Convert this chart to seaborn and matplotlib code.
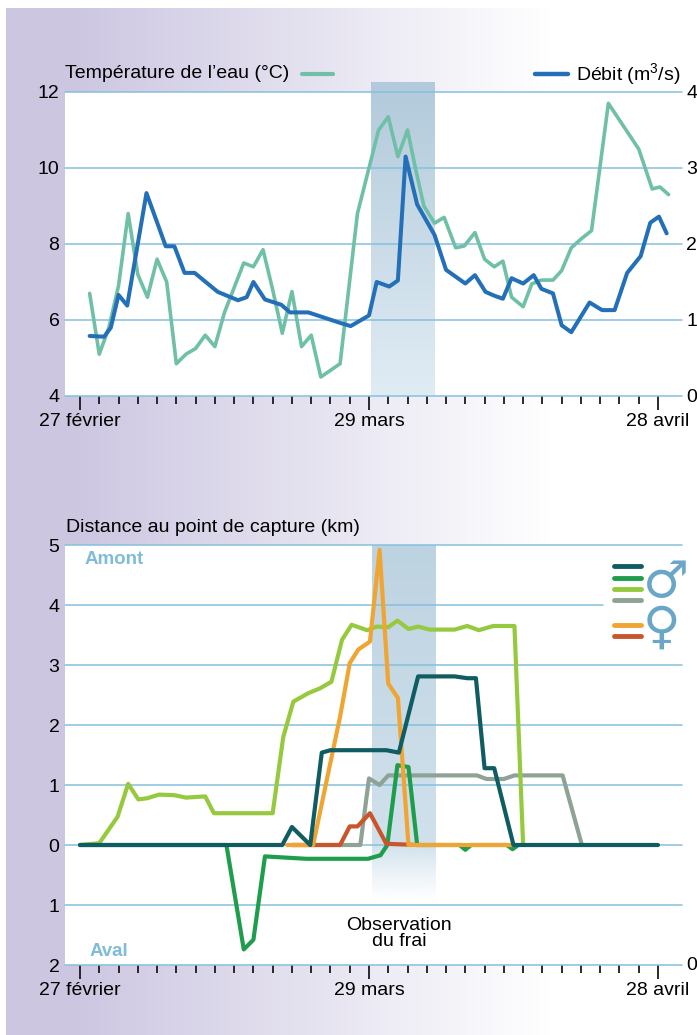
import numpy as np
import pandas as pd
import matplotlib.pyplot as plt
import seaborn as sns

# ---- data (days counted from 27 February) ----
temp_day = [1, 2, 3, 4, 5, 6, 7, 8, 9, 10, 11, 12, 13, 14, 15, 17, 18, 19, 20, 21,
            22, 23, 24, 25, 27, 28.8, 31, 32, 33, 34, 34.9, 35.7, 36.8, 37.8, 39,
            39.9, 41, 42, 43, 43.9, 44.8, 46, 46.9, 47.9, 49.1, 50, 51, 52.1, 53.1,
            54.85, 58, 59.4, 60.2, 61.1]
temp = [6.7, 5.1, 5.8, 6.9, 8.8, 7.2, 6.6, 7.6, 7.0, 4.85, 5.1, 5.25, 5.6, 5.3, 6.2,
        7.5, 7.4, 7.85, 6.8, 5.65, 6.75, 5.3, 5.6, 4.5, 4.85, 8.8, 11.0, 11.35, 10.3,
        11.0, 9.9, 9.0, 8.55, 8.7, 7.9, 7.95, 8.3, 7.6, 7.4, 7.55, 6.6, 6.35, 6.95,
        7.05, 7.05, 7.3, 7.9, 8.15, 8.35, 11.7, 10.5, 9.45, 9.5, 9.3]

debit_day = [1, 2.5, 3.2, 4, 4.9, 6.9, 8.9, 9.8, 10.85, 11.9, 14.3, 16.4, 17.3, 18,
             19.2, 20.9, 21.8, 23.7, 27.05, 28.1, 30, 30.8, 32.1, 33, 33.8, 35, 36.8,
             38, 39, 40, 41, 42.1, 43, 43.9, 44.8, 46, 47.1, 47.9, 49.1, 50, 51, 52.9,
             54.2, 55.5, 56.8, 58.2, 59.2, 60.1, 60.9]
debit = [0.79, 0.78, 0.9, 1.33, 1.19, 2.67, 1.97, 1.97, 1.62, 1.62, 1.37, 1.26, 1.3,
         1.5, 1.27, 1.2, 1.1, 1.1, 0.96, 0.92, 1.06, 1.5, 1.44, 1.52, 3.15, 2.52, 2.12,
         1.66, 1.57, 1.48, 1.59, 1.37, 1.32, 1.28, 1.55, 1.48, 1.59, 1.41, 1.35, 0.93,
         0.84, 1.23, 1.13, 1.13, 1.62, 1.84, 2.28, 2.36, 2.14]

# distance to capture point (km), negative = downstream
m1_day = [0, 21.0, 22.0, 23.9, 25.1, 26.0, 31.8, 33.1, 35.1, 38.9, 40.2, 41.1, 42.0, 43.0, 45.0, 60]
m1 = [0, 0, 0.3, 0, 1.54, 1.58, 1.58, 1.54, 2.81, 2.81, 2.78, 2.78, 1.28, 1.28, 0, 0]

m2_day = [0, 15.2, 17.0, 18.0, 19.2, 23.5, 29.9, 31.2, 31.9, 32.95, 34.1, 35.0, 39.4, 40.0, 40.6, 44.3, 44.9, 45.5]
m2 = [0, 0, -1.74, -1.58, -0.19, -0.23, -0.23, -0.17, 0, 1.33, 1.3, 0, 0, -0.08, 0, 0, -0.07, 0]

m3_day = [0, 2, 3.9, 5, 6.05, 7, 8.2, 9.8, 11, 13, 13.9, 20, 21.1, 22.15, 23.7, 24.9, 26.1,
          27.2, 28.2, 29.8, 30.8, 32, 32.95, 34.1, 35.1, 36.3, 38.9, 40.2, 41.4, 42.9, 45.1, 46]
m3 = [0, 0.03, 0.47, 1.02, 0.76, 0.78, 0.84, 0.83, 0.79, 0.81, 0.53, 0.53, 1.8, 2.39, 2.53,
      2.61, 2.72, 3.42, 3.67, 3.58, 3.64, 3.63, 3.74, 3.6, 3.64, 3.59, 3.59, 3.65, 3.58,
      3.65, 3.65, 0]

m4_day = [22, 29.1, 30.0, 31.1, 32.0, 41.2, 42.2, 44.0, 45.1, 50.1, 52.1]
m4 = [0, 0, 1.11, 1.0, 1.16, 1.16, 1.1, 1.1, 1.16, 1.16, 0]

f1_day = [21.5, 24.2, 27.0, 28.0, 28.9, 30.1, 31.1, 32.0, 33.0, 34.1, 45.0]
f1 = [0, 0, 2.14, 3.03, 3.26, 3.39, 4.92, 2.69, 2.45, 0, 0]

f2_day = [22, 27.0, 28.0, 28.8, 30.1, 31.8, 35]
f2 = [0, 0, 0.31, 0.31, 0.53, 0.02, 0]

date_pos = [0, 30, 60]
date_labels = ['27 février', '29 mars', '28 avril']
spawn = (30.2, 36.8)

# ---- style ----
sns.set_style('white')
plt.rcParams['font.family'] = ['Liberation Sans', 'DejaVu Sans']
plt.rcParams['text.color'] = 'black'
plt.rcParams['xtick.color'] = 'black'
plt.rcParams['ytick.color'] = 'black'
plt.rcParams['mathtext.fontset'] = 'custom'
plt.rcParams['mathtext.rm'] = 'Liberation Sans'
plt.rcParams['mathtext.default'] = 'rm'
FS = 14
C_TEMP = '#6fc0a6'
C_DEB = '#2470b8'
C_GRID = '#86c0de'
C_LBL = '#80bcda'
C_SYM = '#6aa6c8'
colors = {'m1': '#0f5d63', 'm2': '#1e9e4c', 'm3': '#96c93e', 'm4': '#8fa296',
          'f1': '#f0a431', 'f2': '#c8552b'}

W, H = 697, 1035
def fx(px): return px / W
def fy(py): return 1 - py / H
PXD = 9.633  # pixels per day
XL = ((65 - 80) / PXD, (682 - 80) / PXD)

fig = plt.figure(figsize=(6.97, 10.35), dpi=100)

# background gradient
bg = fig.add_axes([0, 0, 1, 1], zorder=-10)
bg.axis('off')
t = np.clip((np.arange(W) - 70) / 480.0, 0, 1)
lav = np.array([204, 198, 225]) / 255.0
row = lav[None, :] * (1 - t[:, None]) + t[:, None]
img = np.tile(row[None, :, :], (H, 1, 1))
img[:8, :] = 1
img[:, :6] = 1
bg.imshow(img, extent=[0, W, H, 0], aspect='auto')
bg.set_xlim(0, W)
bg.set_ylim(H, 0)


def band(ax, x0, x1, ytop, ybot, rows):
    im = ax.imshow(rows[:, None, :], extent=[x0, x1, ybot, ytop], aspect='auto',
                   zorder=0.5, interpolation='bilinear')
    im.set_clip_on(False)


def xaxis(ax):
    ax.set_xlim(*XL)
    ax.set_xticks(date_pos)
    ax.set_xticklabels(date_labels, fontsize=FS)
    ax.set_xticks(np.arange(0, 61, 2), minor=True)
    ax.tick_params(axis='x', which='both', bottom=True)
    ax.tick_params(axis='x', which='major', length=10, width=1.3, color='#1a1a1a', pad=2)
    ax.tick_params(axis='x', which='minor', length=6, width=1.3, color='#1a1a1a')
    for s in ax.spines.values():
        s.set_visible(False)


# ---- top chart ----
ax1 = fig.add_axes([fx(65), fy(396), fx(682) - fx(65), fy(92) - fy(396)])
ax1.set_facecolor('white')
ax1.set_ylim(4, 12)
xaxis(ax1)
ax1.set_yticks([4, 6, 8, 10, 12])
ax1.tick_params(axis='y', length=0, labelsize=FS, pad=4)
for v in [4, 6, 8, 10, 12]:
    ax1.axhline(v, color=C_GRID, lw=1.1, zorder=1, clip_on=False)
n = 100
yy = np.linspace(0, 1, n)[:, None]
top_c = np.array([178, 202, 219]) / 255
bot_c = np.array([224, 236, 244]) / 255
rows = np.concatenate([top_c * (1 - yy) + bot_c * yy, np.ones((n, 1))], axis=1)
band(ax1, spawn[0], spawn[1], 12.25, 4, rows)

df_t = pd.DataFrame({'day': temp_day, 'val': temp})
sns.lineplot(data=df_t, x='day', y='val', ax=ax1, color=C_TEMP, lw=2.6, zorder=3)
ax1.set_xlabel('')
ax1.set_ylabel('')

ax1b = ax1.twinx()
ax1b.set_ylim(0, 4)
ax1b.set_xlim(*XL)
df_d = pd.DataFrame({'day': debit_day, 'val': debit})
sns.lineplot(data=df_d, x='day', y='val', ax=ax1b, color=C_DEB, lw=2.9)
ax1b.set_yticks([0, 1, 2, 3, 4])
ax1b.tick_params(axis='y', length=0, labelsize=FS, pad=3)
ax1b.set_xlabel('')
ax1b.set_ylabel('')
for s in ax1b.spines.values():
    s.set_visible(False)

fig.text(fx(65), fy(74), 'Température de l’eau (°C)', fontsize=FS, va='center', ha='left')
fig.add_artist(plt.Line2D([fx(302), fx(333)], [fy(74), fy(74)], color=C_TEMP, lw=3))
fig.text(fx(680), fy(74), 'Débit (m$^3$/s)', fontsize=FS, va='center', ha='right')
fig.add_artist(plt.Line2D([fx(535), fx(568)], [fy(74), fy(74)], color=C_DEB, lw=3.2))

# ---- bottom chart ----
ax2 = fig.add_axes([fx(65), fy(965), fx(682) - fx(65), fy(545) - fy(965)])
ax2.set_facecolor('white')
ax2.set_ylim(-2, 5)
xaxis(ax2)
ax2.set_yticks([5, 4, 3, 2, 1, 0, -1, -2])
ax2.set_yticklabels(['5', '4', '3', '2', '1', '0', '1', '2'])
ax2.tick_params(axis='y', length=0, labelsize=FS, pad=4)
for v in [5, 3, 2, 1, 0, -1, -2]:
    ax2.axhline(v, color=C_GRID, lw=1.1, zorder=1, clip_on=False)
ax2.axhline(4, xmax=(603 - 65) / 617, color=C_GRID, lw=1.1, zorder=1)

yy = np.linspace(5, -1.0, 160)
c_top = np.array([190, 211, 225]) / 255
c_mid = np.array([208, 225, 236]) / 255
rows = []
for y in yy:
    if y >= 0:
        f = (5 - y) / 5
        c = c_top * (1 - f) + c_mid * f
        a = 1.0
    else:
        c = c_mid
        a = max(0.0, 1 + y / 1.0) ** 1.3
    rows.append([c[0], c[1], c[2], a])
band(ax2, spawn[0] + 0.1, spawn[1] + 0.1, 5, -1.0, np.array(rows))

series = [('m4', m4_day, m4), ('m3', m3_day, m3), ('m2', m2_day, m2),
          ('f2', f2_day, f2), ('f1', f1_day, f1), ('m1', m1_day, m1)]
for key, d, v in series:
    dfs = pd.DataFrame({'day': d, 'val': v})
    sns.lineplot(data=dfs, x='day', y='val', ax=ax2, color=colors[key], lw=3.0, zorder=3)
ax2.set_xlabel('')
ax2.set_ylabel('')

fig.text(fx(66), fy(528), 'Distance au point de capture (km)', fontsize=FS, va='center', ha='left')
fig.text(fx(85), fy(560), 'Amont', fontsize=13.5, fontweight='bold', color=C_LBL, va='center')
fig.text(fx(90), fy(951), 'Aval', fontsize=13.5, fontweight='bold', color=C_LBL, va='center')
fig.text(fx(686), fy(965), '0', fontsize=FS, va='center', ha='left')
ax2.text(33.1, -1.47, 'Observation\ndu frai', fontsize=FS, ha='center', va='center',
         linespacing=0.95)

# legend
for key, py in [('m1', 566), ('m2', 578), ('m3', 589), ('m4', 600), ('f1', 625), ('f2', 636)]:
    fig.add_artist(plt.Line2D([fx(614), fx(641)], [fy(py), fy(py)], color=colors[key],
                              lw=3.5, solid_capstyle='round'))
fig.text(fx(666), fy(583), '♂', fontsize=37, color=C_SYM, ha='center', va='center',
         family='DejaVu Sans', fontweight='bold')
fig.text(fx(661), fy(629), '♀', fontsize=37, color=C_SYM, ha='center', va='center',
         family='DejaVu Sans', fontweight='bold')

fig.savefig('out.png', dpi=100)
